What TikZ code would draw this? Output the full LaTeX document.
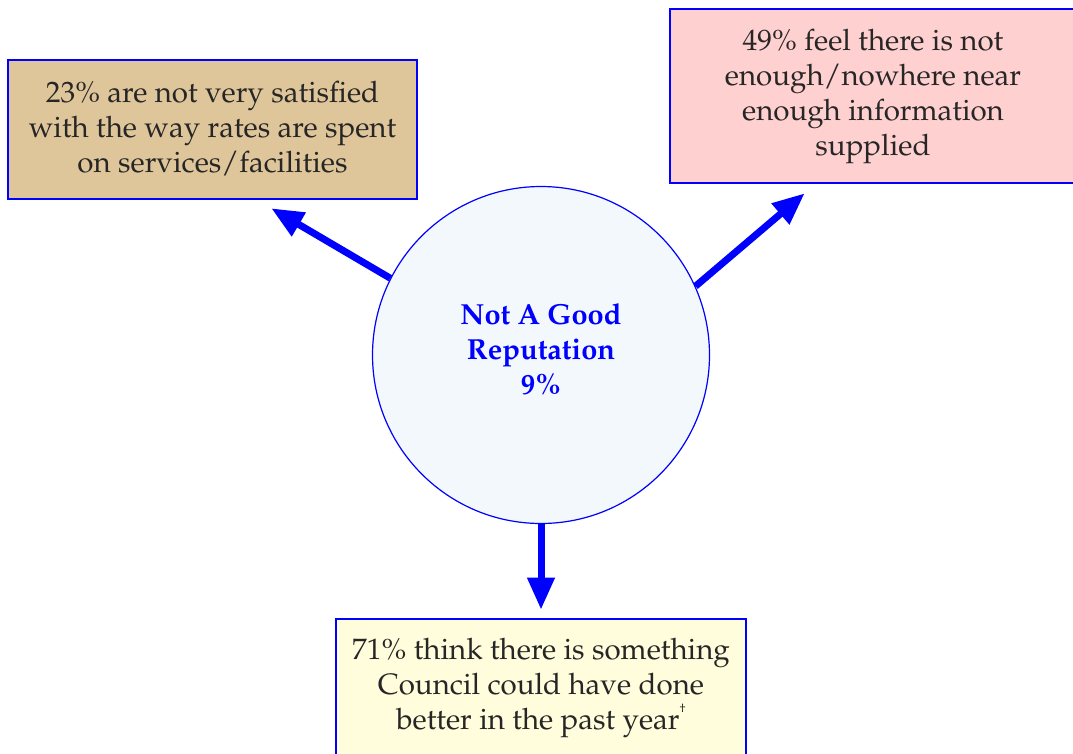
\documentclass[tikz,border=0pt]{standalone}
\usepackage[T1]{fontenc}
\usepackage{mathpazo}
\usetikzlibrary{arrows.meta}
\definecolor{tanfill}{RGB}{223,198,154}
\definecolor{pinkfill}{RGB}{255,208,208}
\definecolor{creamfill}{RGB}{255,253,220}
\definecolor{circfill}{RGB}{243,248,252}

\begin{document}
\begin{tikzpicture}[x=1pt, y=-1pt,
    infobox/.style={draw=blue, line width=2.6pt, align=center, inner sep=0pt,
      text=black!85, font=\fontsize{29.5}{35}\selectfont},
    hub/.style={circle, draw=blue, line width=1.2pt, fill=circfill, minimum size=337pt,
      align=center, text=blue, text depth=11pt, font=\fontsize{29}{35}\selectfont\bfseries},
    bigarrow/.style={draw=blue, line width=7pt, -{Triangle[length=32pt,width=26pt]}}]
    \useasboundingbox (0,0) rectangle (1073,753);

    % the three findings
    \node[infobox, fill=tanfill, minimum width=409pt, minimum height=139pt, text depth=6pt] (spent) at (212.5,129.5)
      {23\% are not very satisfied\\with the way rates are spent\\on services/facilities};
    \node[infobox, fill=pinkfill, minimum width=406pt, minimum height=174pt] (info) at (873,96)
      {49\% feel there is not\\enough/nowhere near\\enough information\\supplied};
    \node[infobox, fill=creamfill, minimum width=410pt, minimum height=138pt] (better) at (541,688)
      {71\% think there is something\\Council could have done\\better in the past year\raisebox{1.2ex}{\fontsize{12}{12}\selectfont\textdagger}};

    % centre
    \node[hub] (rep) at (541,355) {Not A Good\\Reputation\\9\%};

    \draw[bigarrow] (rep.153) -- ([xshift=-147pt, yshift=-8pt]spent.south east);
    \draw[bigarrow] (rep.24) -- ([xshift=136pt, yshift=-9pt]info.south west);
    \draw[bigarrow] (rep.south) -- ([yshift=8pt]better.north);
  \end{tikzpicture}
\end{document}
